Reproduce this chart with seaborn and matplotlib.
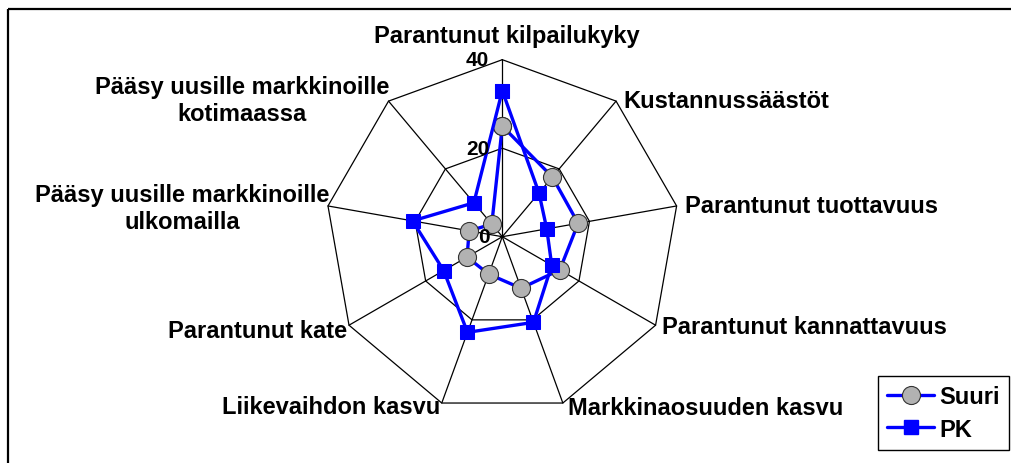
import numpy as np
import pandas as pd
import matplotlib
matplotlib.use("Agg")
import matplotlib.pyplot as plt
import seaborn as sns
from matplotlib.lines import Line2D
from matplotlib.patches import Rectangle

categories = [
    "Parantunut kilpailukyky",
    "Kustannussäästöt",
    "Parantunut tuottavuus",
    "Parantunut kannattavuus",
    "Markkinaosuuden kasvu",
    "Liikevaihdon kasvu",
    "Parantunut kate",
    "Pääsy uusille markkinoille\nulkomailla",
    "Pääsy uusille markkinoille\nkotimaassa",
]
suuri = [25, 17.6, 17.4, 15, 12.4, 9, 9.2, 7.6, 3.7]
pk = [33, 12.9, 10.2, 12.9, 20.6, 23, 15.3, 20.6, 10]
ring_ticks = [0, 20, 40]

sns.set_style("white")
plt.rcParams['font.family'] = ['Liberation Sans', 'DejaVu Sans']
plt.rcParams['font.weight'] = 'bold'
plt.rcParams['text.color'] = 'black'

W, H = 1011, 464
fig = plt.figure(figsize=(W / 100, H / 100), dpi=100)
fig.patch.set_facecolor("white")


def px(x, y):
    return x / W, 1 - y / H


# chart area frame (right/bottom edges fall outside the picture)
fig.patches.append(Rectangle(px(8, 10), 1.2, -1.2, transform=fig.transFigure,
                             fill=False, edgecolor="black", lw=1.6))

cx, cy, R = 502.3, 237.7, 177
ax = fig.add_axes([(cx - R) / W, (H - cy - R) / H, 2 * R / W, 2 * R / H], projection="polar")
ax.set_theta_offset(np.pi / 2)
ax.set_theta_direction(-1)
ax.set_ylim(0, 40)
ax.grid(False)
ax.spines["polar"].set_visible(False)
ax.set_xticks([])
ax.set_yticks([])
ax.patch.set_alpha(0)

n = len(categories)
theta = np.linspace(0, 2 * np.pi, n, endpoint=False)
theta_closed = np.append(theta, 2 * np.pi)

# polygon grid
for r in ring_ticks[1:]:
    ax.plot(theta_closed, [r] * (n + 1), color="black", lw=0.9, clip_on=False)
for t in theta:
    ax.plot([t, t], [0, 40], color="black", lw=0.9, clip_on=False)

for v in ring_ticks:
    ax.annotate(str(v), xy=(0, v), xytext=(-13, 0), textcoords="offset pixels",
                ha="right", va="center", fontsize=15, fontweight="bold")

df = pd.DataFrame({
    "theta": np.concatenate([theta_closed, theta_closed]),
    "value": suuri + suuri[:1] + pk + pk[:1],
    "series": ["Suuri"] * (n + 1) + ["PK"] * (n + 1),
})

sns.lineplot(data=df[df.series == "Suuri"], x="theta", y="value", ax=ax, sort=False,
             estimator=None, color="blue", lw=2.4, marker="o", markersize=13,
             markerfacecolor="#b2b2b2", markeredgecolor="#333333", markeredgewidth=0.8,
             clip_on=False, legend=False)
sns.lineplot(data=df[df.series == "PK"], x="theta", y="value", ax=ax, sort=False,
             estimator=None, color="blue", lw=2.4, marker="s", markersize=10,
             markerfacecolor="blue", markeredgecolor="blue",
             clip_on=False, legend=False)
ax.set_xlabel("")
ax.set_ylabel("")
ax.set_ylim(0, 40)

# category labels
lab = dict(fontsize=17, fontweight="bold")
fig.text(*px(507, 37), categories[0], ha="center", va="center", **lab)
fig.text(*px(623, 102), categories[1], ha="left", va="center", **lab)
fig.text(*px(685, 207), categories[2], ha="left", va="center", **lab)
fig.text(*px(662, 328), categories[3], ha="left", va="center", **lab)
fig.text(*px(568, 409), categories[4], ha="left", va="center", **lab)
fig.text(*px(440, 408), categories[5], ha="right", va="center", **lab)
fig.text(*px(347, 331), categories[6], ha="right", va="center", **lab)
fig.text(*px(182, 209), categories[7], ha="center", va="center", multialignment="center", **lab)
fig.text(*px(242, 101), categories[8], ha="center", va="center", multialignment="center", **lab)

handles = [
    Line2D([], [], color="blue", lw=2.4, marker="o", markersize=13,
           markerfacecolor="#b2b2b2", markeredgecolor="#333333", markeredgewidth=0.8),
    Line2D([], [], color="blue", lw=2.4, marker="s", markersize=10,
           markerfacecolor="blue", markeredgecolor="blue"),
]
leg = fig.legend(handles, ["Suuri", "PK"], loc="lower right",
                 bbox_to_anchor=px(1009, 451), frameon=True, fancybox=False,
                 edgecolor="black", framealpha=1, prop={"size": 17, "weight": "bold"},
                 handlelength=2.0, handletextpad=0.2, borderpad=0.4, labelspacing=0.4,
                 borderaxespad=0)
leg.get_frame().set_linewidth(1.0)

fig.savefig("out.png", dpi=100, facecolor="white")
